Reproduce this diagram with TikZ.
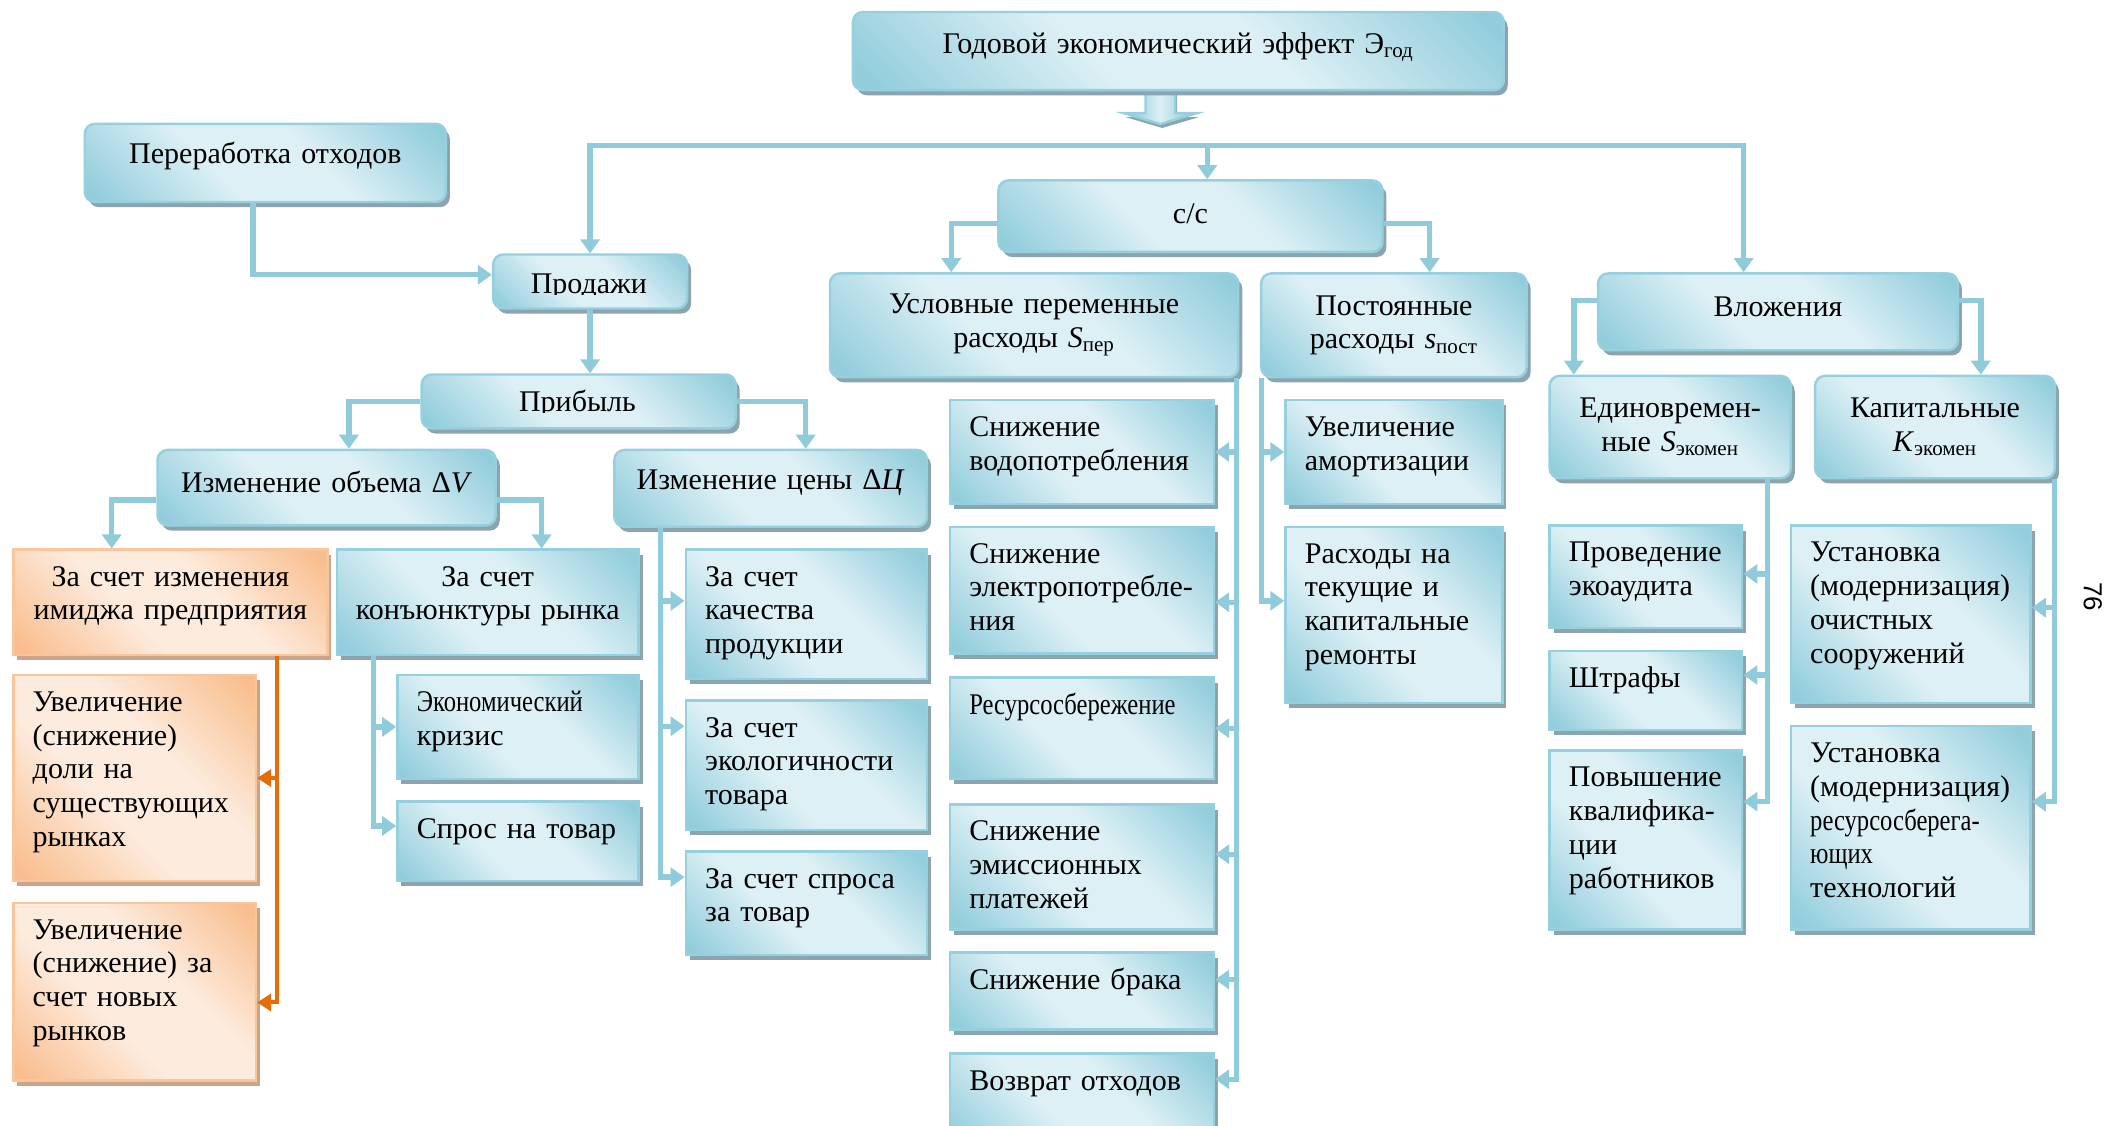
\documentclass[tikz,border=0pt]{standalone}
\usepackage{fontspec}
\setmainfont{Liberation Serif}
\newfontfamily\pagefont{Liberation Sans}
\usepackage{graphicx}
\usetikzlibrary{arrows.meta,shadows,calc}

\definecolor{bxdark}{RGB}{146,205,220}
\definecolor{bxlight}{RGB}{221,240,245}
\definecolor{bxline}{RGB}{150,208,223}
\definecolor{bxshadow}{RGB}{138,165,176}
\definecolor{ordark}{RGB}{249,190,142}
\definecolor{orlight}{RGB}{253,235,221}
\definecolor{orline}{RGB}{248,198,158}
\definecolor{orshadow}{RGB}{204,164,140}
\definecolor{wire}{RGB}{143,203,219}
\definecolor{orwire}{RGB}{228,108,10}

% diagonal fills: dark corners, wide light band through the middle
\pgfdeclareverticalshading{blueband}{100bp}{color(0bp)=(bxdark); color(17bp)=(bxdark);
  color(41bp)=(bxlight); color(59bp)=(bxlight); color(83bp)=(bxdark); color(100bp)=(bxdark)}
\pgfdeclareverticalshading{orangeband}{100bp}{color(0bp)=(ordark); color(17bp)=(ordark);
  color(41bp)=(orlight); color(59bp)=(orlight); color(83bp)=(ordark); color(100bp)=(ordark)}
\pgfdeclarehorizontalshading{arrowband}{100bp}{color(0bp)=(bxdark); color(30bp)=(bxdark);
  color(50bp)=(bxlight); color(70bp)=(bxdark); color(100bp)=(bxdark)}

\newcommand\uu{0.6738pt}
\newcommand\cnd[1]{\scalebox{0.82}[1]{#1}}

\tikzset{
  boxcore/.style={draw=bxline, line width=1.2pt, inner sep=0pt,
    shading=blueband, shading angle=-45},
  blueshadow/.style={drop shadow={shadow xshift=2pt, shadow yshift=-2.6pt, fill=bxshadow, opacity=1}},
  rbox/.style={boxcore, blueshadow, rounded corners=5pt},
  sbox/.style={boxcore, blueshadow},
  obox/.style={boxcore, draw=orline, shading=orangeband, shading angle=-45,
    drop shadow={shadow xshift=2pt, shadow yshift=-2.6pt, fill=orshadow, opacity=1}},
  txt/.style={inner sep=0pt, font=\fontsize{15}{16.85}\selectfont},
  wireline/.style={draw=wire, line width=2.7pt},
  arrowline/.style={wireline, -{Triangle[length=7pt,width=9.5pt]}},
  orwireline/.style={draw=orwire, line width=2pt},
  orarrow/.style={orwireline, -{Triangle[length=7pt,width=8.5pt]}},
}

% box with left-aligned text starting at the top
\newcommand\lbox[7][sbox]{%
  \node[#1, anchor=north west, minimum width={(#5-#3)*\uu},
        minimum height={(#6-#4)*\uu}] (#2) at (#3,#4) {};
  \node[txt, text width=200pt, align=left, anchor=base west] (#2-t)
        at ([shift={(15,28)}]#2.north west) {#7};}
% box with centred text starting at the top
\newcommand\cbox[7][sbox]{%
  \node[#1, anchor=north west, minimum width={(#5-#3)*\uu},
        minimum height={(#6-#4)*\uu}] (#2) at (#3,#4) {};
  \node[txt, text width={(#5-#3)*\uu}, align=center, anchor=base] (#2-t)
        at ([shift={(0,28)}]#2.north) {#7};}
% rounded box with centred text
\newcommand\rndbox[7]{%
  \node[rbox, anchor=north west, minimum width={(#4-#2)*\uu},
        minimum height={(#5-#3)*\uu}] (#1) at (#2,#3) {};
  \node[txt, text width={(#4-#2)*\uu}, align=center] (#1-t)
        at ([shift={(0,#6)}]#1.center) {#7};}

\begin{document}
\begin{tikzpicture}[x=\uu, y=-\uu]
\useasboundingbox (0,0) rectangle (1568,835);
\clip (0,0) rectangle (1568,835);

% block arrow under the heading
\path[draw=bxline, line width=1.2pt, shading=arrowband,
      drop shadow={shadow xshift=1pt, shadow yshift=-2pt, fill=bxshadow, opacity=1}]
  (850,64) -- (872,64) -- (872,84) -- (888,84) -- (861,92) -- (834,84) -- (850,84) -- cycle;

% upper level
\rndbox{top}{632}{8}{1115}{66}{-3}{Годовой экономический эффект Э\textsubscript{год}}
\rndbox{pererab}{62}{91}{330}{149}{-5}{Переработка отходов}
\rndbox{cc}{740}{133}{1025}{186}{-2}{с/с}

\node[rbox, anchor=north west, minimum width={144*\uu}, minimum height={40*\uu}]
  (prodazhi) at (365,188) {};
\begin{scope}
  \clip (365,188) rectangle (509,218.8);
  \node[txt, anchor=base] (prodazhi-t) at (437,218) {Продажи};
\end{scope}
\node[rbox, anchor=north west, minimum width={233*\uu}, minimum height={40*\uu}]
  (pribyl) at (312,277) {};
\begin{scope}
  \clip (312,277) rectangle (545,306.3);
  \node[txt, anchor=base] (pribyl-t) at (428.5,305.5) {Прибыль};
\end{scope}

\rndbox{dV}{116}{333}{367}{389}{-4}{Изменение объема Δ\textit{V}}
\rndbox{dC}{455}{333}{687}{390}{-4}{Изменение цены Δ\textit{Ц}}
\rndbox{uslovn}{615}{202}{918}{279}{0}{Условные переменные\\расходы \textit{S}\textsubscript{пер}}
\rndbox{postoyan}{935}{202}{1132}{279}{0}{Постоянные\\расходы \textit{s}\textsubscript{пост}}
\rndbox{vlozh}{1185}{202}{1452}{259}{-4}{Вложения}
\rndbox{edinovr}{1149}{278}{1328}{354}{0}{Единовремен-\\ные \textit{S}\textsubscript{экомен}}
\rndbox{kapit}{1346}{278}{1524}{354}{0}{Капитальные\\\textit{K}\textsubscript{экомен}}

% sales branch
\cbox[obox]{or1}{9}{407}{242}{485}{За счет изменения\\имиджа предприятия}
\lbox[obox]{or2}{9}{500}{189}{653}{Увеличение\\(снижение)\\доли на\\существующих\\рынках}
\lbox[obox]{or3}{9}{669}{189}{801}{Увеличение\\(снижение) за\\счет новых\\рынков}
\cbox{konj}{249}{407}{473}{485}{За счет\\конъюнктуры рынка}
\lbox{ekon}{294}{500}{473}{577}{\cnd{Экономический}\\кризис}
\lbox{spros}{294}{594}{473}{653}{Спрос на товар}
\lbox{kach}{508}{407}{687}{503}{За счет\\качества\\продукции}
\lbox{ekol}{508}{519}{687}{615}{За счет\\экологичности\\товара}
\lbox{sprosz}{508}{631}{687}{708}{За счет спроса\\за товар}

% cost branch
\lbox{vodo}{704}{296}{900}{373}{Снижение\\водопотребления}
\lbox{elek}{704}{390}{900}{484}{Снижение\\электропотребле-\\ния}
\lbox{resurs}{704}{502}{900}{577}{\cnd{Ресурсосбережение}}
\lbox{emis}{704}{596}{900}{689}{Снижение\\эмиссионных\\платежей}
\lbox{brak}{704}{706}{900}{763}{Снижение брака}
\lbox{vozvr}{704}{781}{900}{850}{Возврат отходов}
\lbox{amort}{953}{296}{1114}{373}{Увеличение\\амортизации}
\lbox{remont}{953}{390}{1114}{521}{Расходы на\\текущие и\\капитальные\\ремонты}

% investment branch
\lbox{audit}{1149}{389}{1292}{465}{Проведение\\экоаудита}
\lbox{shtraf}{1149}{482}{1292}{541}{Штрафы}
\lbox{kval}{1149}{556}{1292}{689}{Повышение\\квалифика-\\ции\\работников}
\lbox{ochist}{1328}{389}{1506}{521}{Установка\\(модернизация)\\очистных\\сооружений}
\lbox{resteh}{1328}{538}{1506}{689}{Установка\\(модернизация)\\\cnd{ресурсосберега-}\\\cnd{ющих}\\технологий}

% page number
\node[inner sep=0pt, rotate=-90, font=\pagefont\fontsize{13}{15}\selectfont]
  (pagenum) at (1553,443) {76};

% distribution from the heading
\coordinate (hub) at ([shift={(12.5,-25)}]cc.north);
\draw[arrowline] (hub) -| (prodazhi.north);
\draw[arrowline] (hub) -| ([shift={(-25.5,0)}]vlozh.north);
\draw[arrowline] (hub) -- (hub |- cc.north);

% sales
\draw[arrowline] ([shift={(-9,0)}]pererab.south) |- ([shift={(0,-5)}]prodazhi.west);
\draw[arrowline] (prodazhi.south) -- (prodazhi.south |- pribyl.north);
\draw[arrowline] (pribyl.west) -| ([shift={(16.5,0)}]dV.north);
\draw[arrowline] (pribyl.east) -| ([shift={(26,0)}]dC.north);
\draw[arrowline] ([shift={(0,9)}]dV.west) -| ([shift={(-43.5,0)}]or1.north);
\draw[arrowline] ([shift={(0,9)}]dV.east) -| ([shift={(40,0)}]konj.north);

% c/c and investments
\draw[arrowline] ([shift={(0,5.5)}]cc.west) -| ([shift={(-61.5,0)}]uslovn.north);
\draw[arrowline] ([shift={(0,5.5)}]cc.east) -| ([shift={(26.5,0)}]postoyan.north);
\draw[arrowline] ([shift={(0,-8.5)}]vlozh.west) -| ([shift={(-71.5,0)}]edinovr.north);
\draw[arrowline] ([shift={(0,-8.5)}]vlozh.east) -| ([shift={(34,0)}]kapit.north);

% price change trunk
\coordinate (tC) at ([shift={(35,0)}]dC.south west);
\coordinate (aC1) at ([shift={(0,-10)}]kach.west);
\coordinate (aC2) at ([shift={(0,-29)}]ekol.west);
\coordinate (aC3) at ([shift={(0,-19.5)}]sprosz.west);
\draw[arrowline] (tC) |- (aC3);
\foreach \a in {aC1,aC2} \draw[arrowline] (tC |- \a) -- (\a);

% market trunk
\coordinate (tK) at ([shift={(28,0)}]konj.south west);
\coordinate (aK1) at (ekon.west);
\coordinate (aK2) at ([shift={(0,-11.5)}]spros.west);
\draw[arrowline] (tK) |- (aK2);
\draw[arrowline] (tK |- aK1) -- (aK1);

% image trunk
\coordinate (tO) at ([shift={(-38,0)}]or1.south east);
\coordinate (aO1) at (or2.east);
\coordinate (aO2) at ([shift={(0,8)}]or3.east);
\draw[orarrow] (tO) |- (aO2);
\draw[orarrow] (tO |- aO1) -- (aO1);

% variable costs trunk
\coordinate (tU) at ([shift={(-2,0)}]uslovn.south east);
\coordinate (aU1) at (vodo.east);
\coordinate (aU2) at ([shift={(0,9)}]elek.east);
\coordinate (aU3) at (resurs.east);
\coordinate (aU4) at ([shift={(0,-9.5)}]emis.east);
\coordinate (aU5) at ([shift={(0,-8.5)}]brak.east);
\coordinate (aU6) at ([shift={(0,-15.5)}]vozvr.east);
\draw[arrowline] (tU) |- (aU6);
\foreach \a in {aU1,aU2,aU3,aU4,aU5} \draw[arrowline] (tU |- \a) -- (\a);

% fixed costs trunk
\coordinate (tP) at ([shift={(1,0)}]postoyan.south west);
\coordinate (aP1) at (amort.west);
\coordinate (aP2) at ([shift={(0,-10.5)}]remont.west);
\draw[arrowline] (tP) |- (aP2);
\draw[arrowline] (tP |- aP1) -- (aP1);

% one-off investments trunk
\coordinate (tE) at ([shift={(-18,0)}]edinovr.south east);
\coordinate (aE1) at ([shift={(0,-2)}]audit.east);
\coordinate (aE2) at ([shift={(0,-11.5)}]shtraf.east);
\coordinate (aE3) at ([shift={(0,-28.5)}]kval.east);
\draw[arrowline] (tE) |- (aE3);
\foreach \a in {aE1,aE2} \draw[arrowline] (tE |- \a) -- (\a);

% capital investments trunk
\coordinate (tKp) at ([shift={(-1,0)}]kapit.south east);
\coordinate (aKp1) at ([shift={(0,-5)}]ochist.east);
\coordinate (aKp2) at ([shift={(0,-19.5)}]resteh.east);
\draw[arrowline] (tKp) |- (aKp2);
\draw[arrowline] (tKp |- aKp1) -- (aKp1);
\end{tikzpicture}
\end{document}
